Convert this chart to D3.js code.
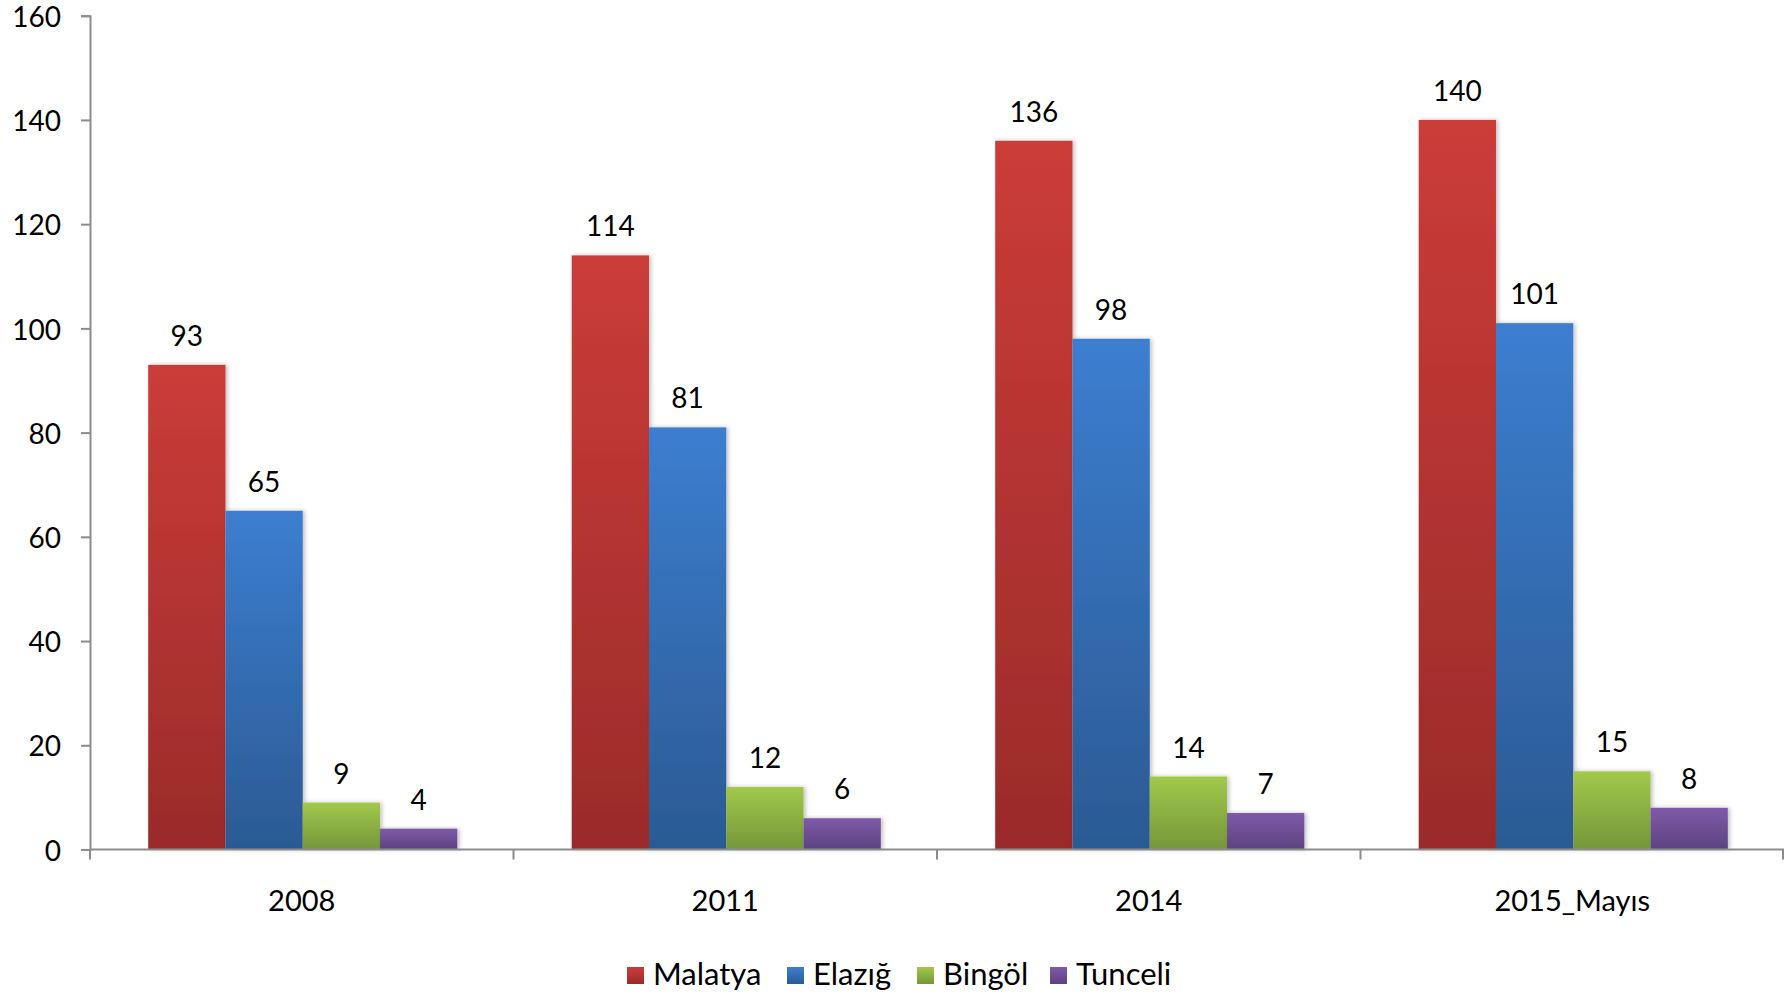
<!DOCTYPE html>
<html>
<head>
<meta charset="utf-8">
<script src="https://cdn.jsdelivr.net/npm/d3@7"></script>
<style>
  html, body { margin: 0; padding: 0; background: #ffffff; }
  svg { display: block; }
  text { font-family: Lato, "Open Sans", sans-serif; fill: #000; }
</style>
</head>
<body>
<svg id="chart" width="1784" height="994"></svg>
<script>
// Years on the category axis
const years = ["2008", "2011", "2014", "2015_Mayıs"];
// Province series
const provinces = ["Malatya", "Elazığ", "Bingöl", "Tunceli"];
const malatya = [93, 114, 136, 140];
const elazig  = [65, 81, 98, 101];
const bingol  = [9, 12, 14, 15];
const tunceli = [4, 6, 7, 8];
const yTicks = [0, 20, 40, 60, 80, 100, 120, 140, 160];

const seriesValues = [malatya, elazig, bingol, tunceli];
// top / bottom colours of each series' vertical gradient
const topColors = ["#cb3c38", "#3c7ed0", "#a1c94b", "#7f5aa9"];
const bottomColors = ["#9a2b2a", "#2b5a93", "#75963a", "#5d4280"];

const svg = d3.select("#chart");
const margin = { left: 90, right: 0, top: 15.7, bottom: 144.5 };
const W = 1784, H = 994;

const x0 = d3.scaleBand().domain(years).range([margin.left, W - margin.right])
  .paddingInner(0).paddingOuter(0);
const x1 = d3.scaleBand().domain(provinces)
  .range([58.2, x0.bandwidth() - 56.2]).padding(0);
const y = d3.scaleLinear().domain([0, 160]).range([H - margin.bottom, margin.top]);

const defs = svg.append("defs");
provinces.forEach((p, i) => {
  const g = defs.append("linearGradient").attr("id", "grad" + i)
    .attr("x1", 0).attr("y1", 0).attr("x2", 0).attr("y2", 1);
  g.append("stop").attr("offset", "0%").attr("stop-color", topColors[i]);
  g.append("stop").attr("offset", "100%").attr("stop-color", bottomColors[i]);
});
const shadow = defs.append("filter").attr("id", "shadow")
  .attr("x", "-10%").attr("y", "-10%").attr("width", "130%").attr("height", "130%");
shadow.append("feDropShadow").attr("dx", 2).attr("dy", 0).attr("stdDeviation", 2)
  .attr("flood-color", "#000").attr("flood-opacity", 0.25);

// Y axis
const yAxis = d3.axisLeft(y).tickValues(yTicks).tickSize(9).tickPadding(20);
const yG = svg.append("g").attr("transform", `translate(${margin.left},0)`).call(yAxis);
yG.select(".domain").attr("stroke", "#8c8c8c").attr("stroke-width", 2);
yG.selectAll(".tick line").attr("stroke", "#8c8c8c").attr("stroke-width", 2);
yG.selectAll(".tick text").attr("font-family", "Lato, sans-serif").attr("font-size", 28)
  .attr("fill", "#000").attr("dy", "0.38em");

// Bars
const groups = svg.append("g").selectAll("g").data(years).join("g")
  .attr("transform", d => `translate(${x0(d)},0)`);

provinces.forEach((p, i) => {
  groups.append("rect")
    .attr("x", x1(p))
    .attr("width", x1.bandwidth())
    .attr("y", (d, j) => y(seriesValues[i][j]))
    .attr("height", (d, j) => y(0) - y(seriesValues[i][j]))
    .attr("fill", `url(#grad${i})`)
    .attr("filter", "url(#shadow)");
  groups.append("text")
    .attr("x", x1(p) + x1.bandwidth() / 2)
    .attr("y", (d, j) => y(seriesValues[i][j]) - 19)
    .attr("text-anchor", "middle")
    .attr("font-size", 28)
    .text((d, j) => seriesValues[i][j]);
});

// X axis with boundary ticks
const xG = svg.append("g").attr("transform", `translate(0,${y(0)})`);
xG.append("line").attr("x1", margin.left).attr("x2", W).attr("y1", 0).attr("y2", 0)
  .attr("stroke", "#8c8c8c").attr("stroke-width", 2);
const bounds = years.map(d => x0(d)).concat([x0.range()[1] - 1]);
xG.selectAll("line.tk").data(bounds).join("line").attr("class", "tk")
  .attr("x1", d => d).attr("x2", d => d).attr("y1", 0).attr("y2", 10)
  .attr("stroke", "#8c8c8c").attr("stroke-width", 2);
xG.selectAll("text").data(years).join("text")
  .attr("x", d => x0(d) + x0.bandwidth() / 2)
  .attr("y", 61)
  .attr("text-anchor", "middle")
  .attr("font-size", 29)
  .text(d => d);

// Legend
const legendX = [627, 787, 917, 1050];
const leg = svg.append("g");
provinces.forEach((p, i) => {
  leg.append("rect").attr("x", legendX[i]).attr("y", 967).attr("width", 17).attr("height", 17)
    .attr("fill", `url(#grad${i})`);
  leg.append("text").attr("x", legendX[i] + 26).attr("y", 985)
    .attr("font-size", 31).text(p);
});
</script>
</body>
</html>
